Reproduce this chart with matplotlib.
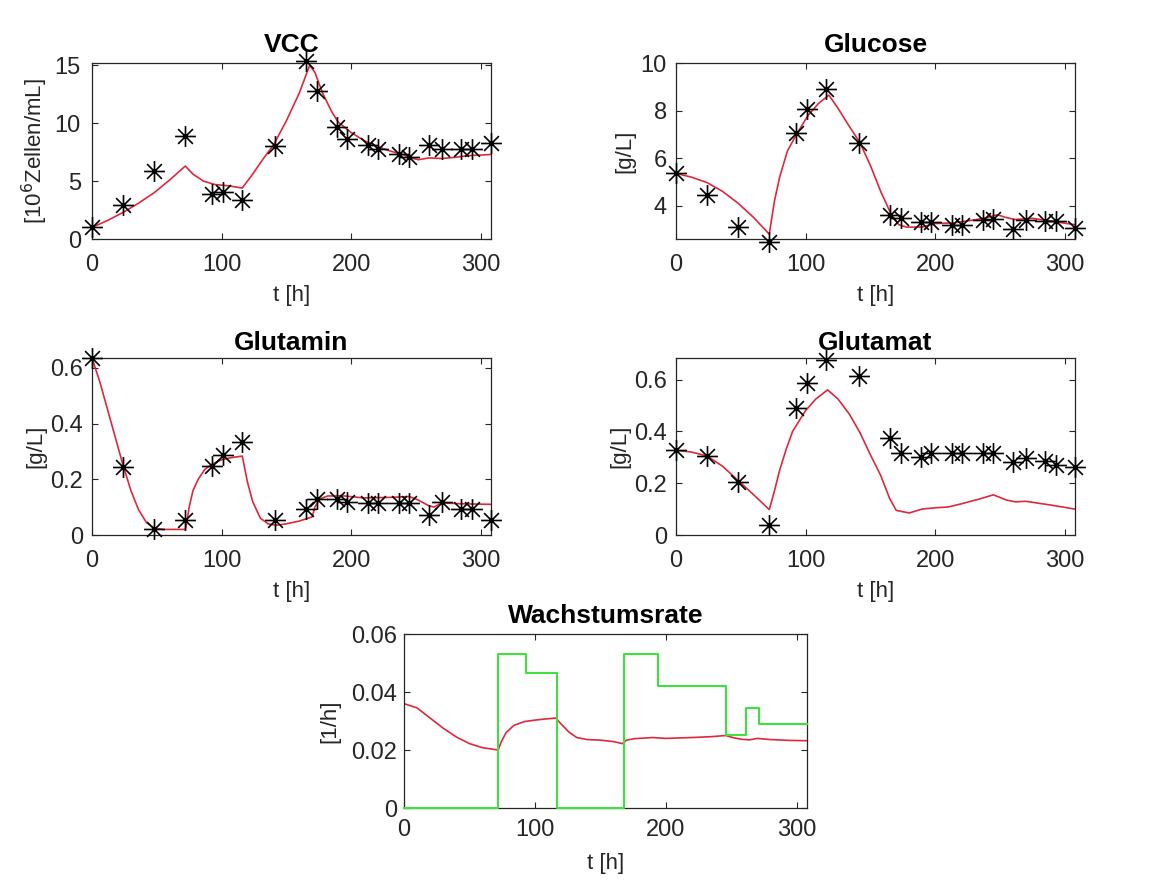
import matplotlib
matplotlib.use('Agg')
import matplotlib.pyplot as plt
from matplotlib.ticker import FormatStrFormatter
from matplotlib.path import Path

plt.rcParams['font.family'] = ['Liberation Sans', 'DejaVu Sans']

# measured samples
t_mess = [0, 24, 48, 72, 93, 101, 116, 141, 165, 174, 189, 197, 213, 221, 237, 245, 260, 270, 285, 293, 308]
vcc_mess = [1.0, 2.9, 5.9, 8.9, 3.9, 4.1, 3.4, 8.0, 15.4, 12.8, 9.7, 8.6, 8.1, 7.8, 7.3, 7.1, 8.1, 7.8, 7.8, 7.8, 8.3]
glc_mess = [5.36, 4.46, 3.1, 2.48, 7.04, 8.08, 8.92, 6.65, 3.62, 3.48, 3.3, 3.3, 3.2, 3.2, 3.39, 3.46, 3.03, 3.41, 3.35, 3.35, 3.07]
gln_mess = [0.635, 0.245, 0.022, 0.055, 0.248, 0.287, 0.335, 0.055, 0.094, 0.13, 0.13, 0.118, 0.116, 0.116, 0.116, 0.116, 0.07, 0.118, 0.092, 0.092, 0.053]
glu_mess = [0.327, 0.304, 0.203, 0.04, 0.49, 0.587, 0.677, 0.615, 0.375, 0.317, 0.301, 0.317, 0.317, 0.317, 0.317, 0.317, 0.281, 0.297, 0.284, 0.272, 0.261]

# simulated curves
t_vcc = [0, 12, 24, 36, 48, 60, 72, 78, 86, 95, 105, 116, 124, 132, 140, 150, 160, 168, 172, 178, 185, 190, 200, 210, 220, 230, 240, 246, 252, 260, 270, 280, 290, 300, 308]
vcc_sim = [1.0, 1.6, 2.3, 3.1, 4.0, 5.1, 6.3, 5.6, 5.0, 4.7, 4.6, 4.4, 5.6, 6.9, 8.1, 10.2, 12.6, 15.0, 14.4, 12.6, 11.0, 10.1, 9.2, 8.5, 8.0, 7.6, 7.3, 7.0, 6.85, 7.0, 6.95, 7.05, 7.2, 7.25, 7.3]

t_glc = [0, 12, 24, 36, 48, 60, 72, 76, 80, 86, 93, 102, 110, 118, 125, 133, 142, 150, 158, 166, 172, 178, 190, 200, 215, 230, 240, 248, 255, 262, 275, 290, 308]
glc_sim = [5.36, 5.2, 4.97, 4.6, 4.1, 3.5, 2.8, 4.2, 5.2, 6.3, 7.0, 7.8, 8.3, 8.65, 8.1, 7.4, 6.65, 5.7, 4.6, 3.65, 3.2, 3.1, 3.1, 3.25, 3.28, 3.4, 3.5, 3.62, 3.5, 3.42, 3.47, 3.35, 3.2]

t_gln = [0, 6, 12, 18, 24, 30, 36, 42, 48, 55, 72, 73, 75, 78, 82, 87, 93, 100, 108, 116, 117, 120, 124, 130, 136, 142, 150, 160, 170, 172, 176, 182, 195, 210, 230, 245, 252, 260, 264, 270, 285, 308]
gln_sim = [0.635, 0.55, 0.45, 0.35, 0.25, 0.16, 0.09, 0.045, 0.025, 0.02, 0.02, 0.04, 0.1, 0.16, 0.2, 0.235, 0.255, 0.27, 0.278, 0.283, 0.26, 0.19, 0.12, 0.06, 0.04, 0.035, 0.04, 0.05, 0.065, 0.1, 0.13, 0.14, 0.14, 0.133, 0.135, 0.138, 0.125, 0.105, 0.1, 0.115, 0.112, 0.11]

t_glu = [0, 12, 24, 36, 48, 60, 72, 76, 80, 85, 90, 95, 100, 108, 117, 125, 134, 142, 150, 158, 165, 170, 180, 190, 200, 210, 220, 235, 245, 255, 262, 270, 290, 308]
glu_sim = [0.327, 0.32, 0.305, 0.265, 0.21, 0.155, 0.098, 0.17, 0.25, 0.33, 0.4, 0.44, 0.48, 0.525, 0.56, 0.525, 0.465, 0.395, 0.31, 0.23, 0.14, 0.095, 0.085, 0.1, 0.105, 0.108, 0.12, 0.14, 0.155, 0.135, 0.128, 0.13, 0.115, 0.1]

t_mu = [0, 10, 20, 30, 40, 50, 60, 72, 74, 78, 84, 92, 100, 108, 116, 120, 126, 132, 140, 150, 160, 167, 170, 176, 190, 200, 220, 235, 246, 252, 258, 264, 270, 280, 295, 308]
mu_sim = [0.036, 0.0345, 0.031, 0.0275, 0.0245, 0.0222, 0.0208, 0.020, 0.0225, 0.026, 0.0285, 0.0298, 0.0303, 0.0307, 0.031, 0.029, 0.0262, 0.0243, 0.0236, 0.0234, 0.0229, 0.0222, 0.0234, 0.0239, 0.0243, 0.024, 0.0243, 0.0246, 0.025, 0.0242, 0.0237, 0.0235, 0.024, 0.0236, 0.0233, 0.0232]

# piecewise constant rate (feed phases)
t_step = [0, 72, 93, 117, 168, 194, 246, 261, 271, 308]
mu_step = [0, 0.053, 0.0465, 0, 0.053, 0.042, 0.0253, 0.0345, 0.0288, 0.0288]

RED = '#e0283c'
GREEN = '#3fe03f'
DARK = '#262626'
W, H = 1157, 888

# MATLAB style asterisk
star = Path([(-1, 0), (1, 0), (0, -1), (0, 1),
             (-0.71, -0.71), (0.71, 0.71), (-0.71, 0.71), (0.71, -0.71)],
            [Path.MOVETO, Path.LINETO] * 4)

fig = plt.figure(figsize=(W / 100, H / 100), dpi=100)


def make_ax(left, top, right, bottom):
    return fig.add_axes([left / W, 1 - bottom / H, (right - left) / W, (bottom - top) / H])


def style(ax, title, ylabel, ylim, yticks, ylab_x, xpad=11, ypad=6.5, tpad=8):
    ax.set_xlim(0, 308)
    ax.set_ylim(*ylim)
    ax.set_xticks([0, 100, 200, 300])
    ax.set_yticks(yticks)
    ax.yaxis.set_major_formatter(FormatStrFormatter('%g'))
    ax.tick_params(direction='in', length=4, width=0.8, top=True, right=True,
                   labelsize=17, colors=DARK)
    ax.tick_params(axis='x', pad=xpad)
    ax.tick_params(axis='y', pad=ypad)
    for s in ax.spines.values():
        s.set_color(DARK)
        s.set_linewidth(0.9)
    ax.set_title(title, fontsize=19, fontweight='bold', pad=tpad)
    ax.set_xlabel('t [h]', fontsize=16, color=DARK)
    ax.xaxis.set_label_coords(0.5, -0.26)
    ax.set_ylabel(ylabel, fontsize=16, color=DARK)
    ax.yaxis.set_label_coords(ylab_x, 0.5)


def panel(ax, t_sim, y_sim, y_mess):
    ax.plot(t_sim, y_sim, color=RED, lw=1.2)
    ax.plot(t_mess, y_mess, linestyle='none', marker=star, ms=15, mew=1.2,
            color='black', clip_on=False, zorder=4)


ax1 = make_ax(92, 63, 491, 239)
panel(ax1, t_vcc, vcc_sim, vcc_mess)
style(ax1, 'VCC', '[10$^6$Zellen/mL]', (0, 15.2), [0, 5, 10, 15], -0.105, ypad=8)

ax2 = make_ax(676, 63, 1075, 239)
panel(ax2, t_glc, glc_sim, glc_mess)
style(ax2, 'Glucose', '[g/L]', (2.6, 10), [4, 6, 8, 10], -0.103)

ax3 = make_ax(92, 358, 491, 535)
panel(ax3, t_gln, gln_sim, gln_mess)
style(ax3, 'Glutamin', '[g/L]', (0, 0.635), [0, 0.2, 0.4, 0.6], -0.115, tpad=6)

ax4 = make_ax(676, 358, 1075, 535)
panel(ax4, t_glu, glu_sim, glu_mess)
style(ax4, 'Glutamat', '[g/L]', (0, 0.683), [0, 0.2, 0.4, 0.6], -0.115, tpad=6)

ax5 = make_ax(404, 634, 807, 808)
ax5.plot(t_mu, mu_sim, color=RED, lw=1.2)
ax5.step(t_step, mu_step, where='post', color=GREEN, lw=1.5, clip_on=False, zorder=3)
style(ax5, 'Wachstumsrate', '[1/h]', (0, 0.06), [0, 0.02, 0.04, 0.06], -0.159,
      xpad=8, ypad=5, tpad=8)

fig.savefig('out.png', dpi=100)
